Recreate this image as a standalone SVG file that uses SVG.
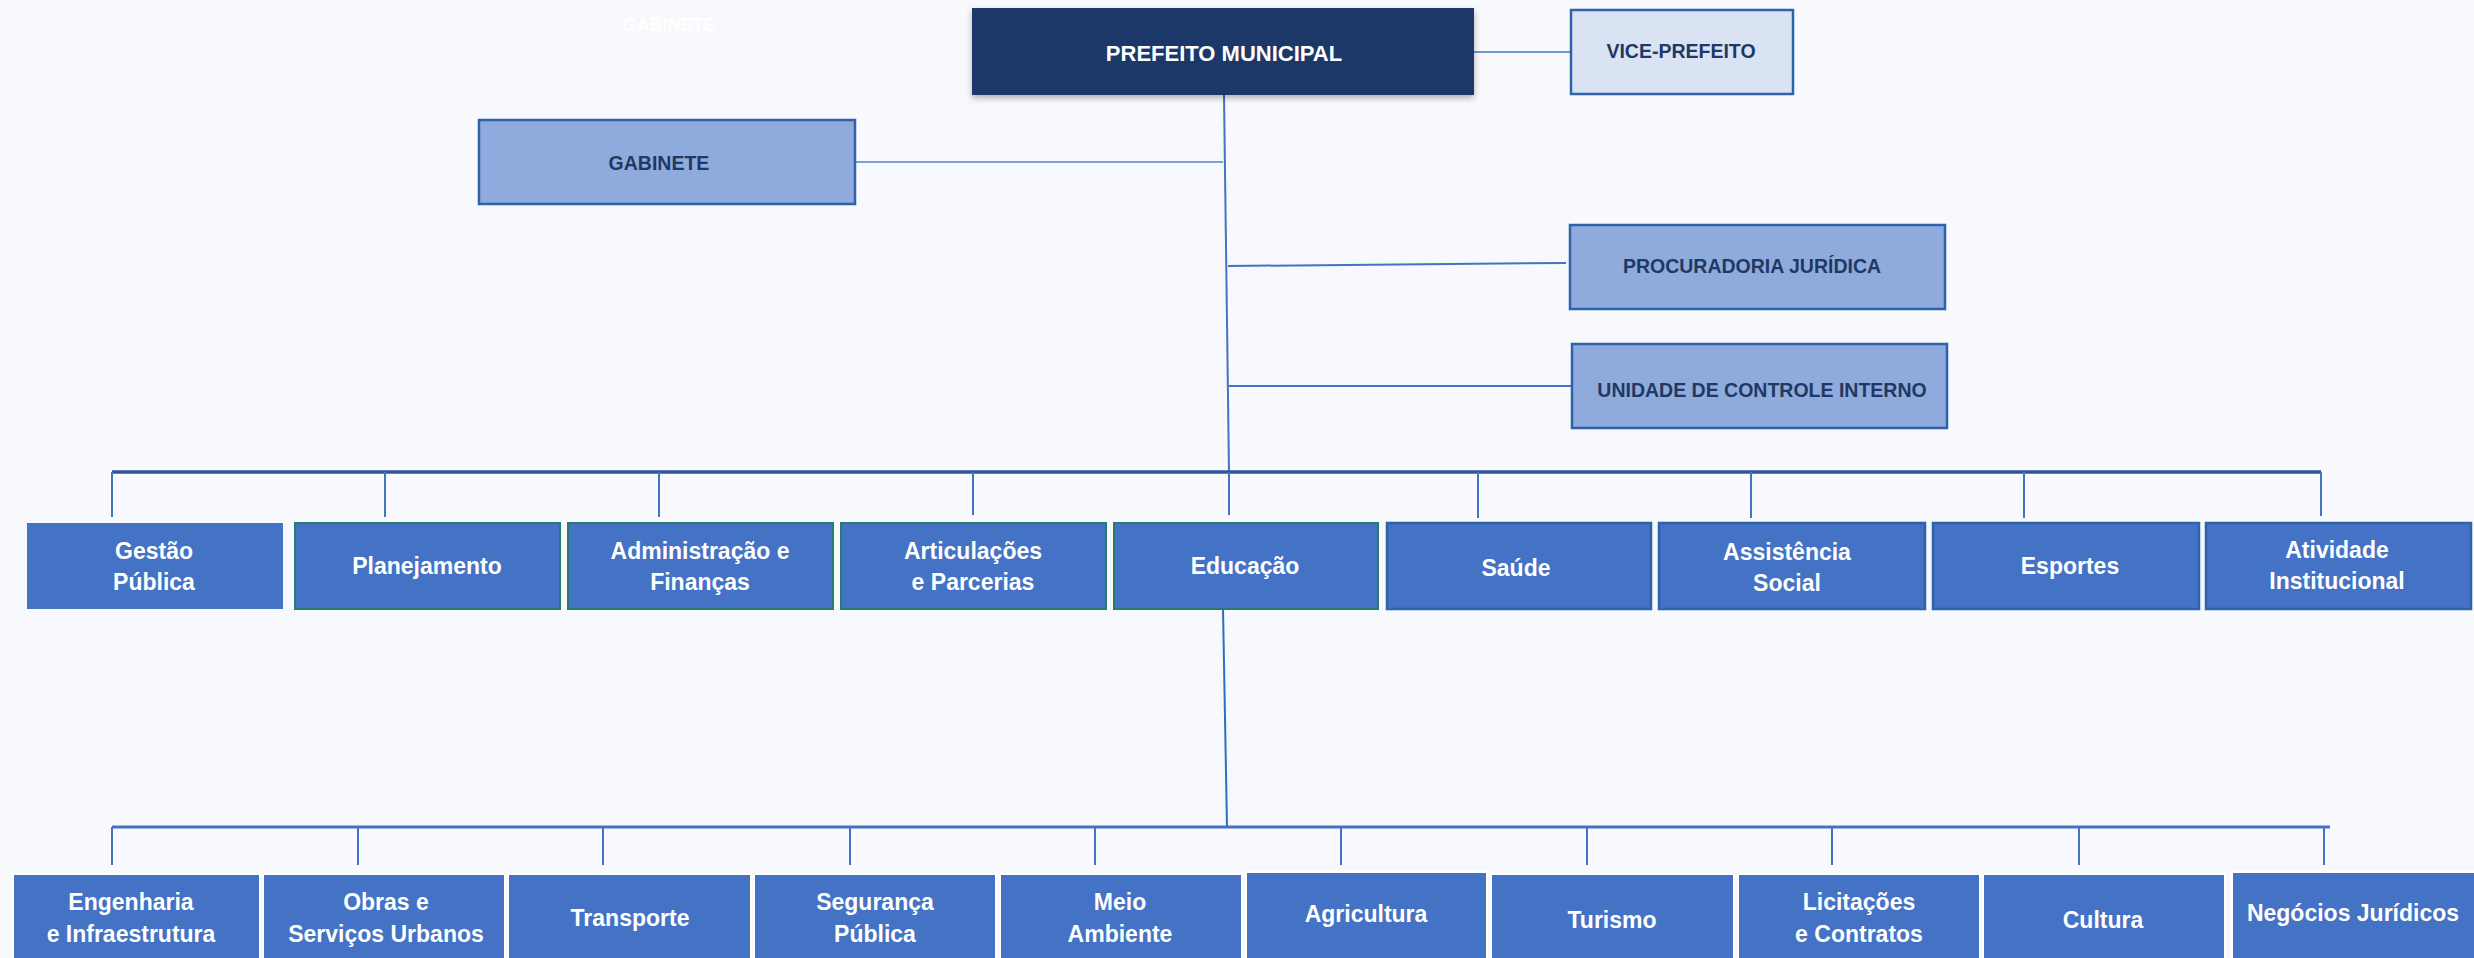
<svg xmlns="http://www.w3.org/2000/svg" width="2474" height="958" viewBox="0 0 2474 958">
<defs>
<filter id="sh" x="-5%" y="-10%" width="110%" height="130%">
<feDropShadow dx="0" dy="3" stdDeviation="3" flood-color="#000" flood-opacity="0.3"/>
</filter>
<style>
text{font-family:"Liberation Sans",Arial,sans-serif;font-weight:bold;text-anchor:middle}
.top{fill:#8FAADC;stroke:#2E62AA;stroke-width:2.5}
.tt{fill:#1F3864;font-size:19.5px}
.b2{fill:#4472C4}
.teal{stroke:#2A7A70;stroke-width:2}
.blu{stroke:#2E62AA;stroke-width:2.5}
.b3{fill:#4472C4;stroke:#FFFFFF;stroke-width:2}
.wt{fill:#FFFFFF;font-size:23px}
.ln{stroke:#4472C4;stroke-width:2;fill:none}
.bar{stroke:#2F5597;stroke-width:3.5;fill:none}
</style>
</defs>
<rect width="2474" height="958" fill="#F7F9FC"/>
<text x="669" y="31" style="fill:#FFFFFF;font-size:18px">GABINETE</text>

<g id="connectors">
<line class="ln" x1="1224" y1="95" x2="1229" y2="472"/>
<line class="ln" x1="1474" y1="52" x2="1571" y2="52" style="stroke:#6F93D6"/>
<line class="ln" x1="855" y1="162" x2="1223" y2="162" style="stroke:#7A9FDB"/>
<line class="ln" x1="1228" y1="266" x2="1566" y2="263"/>
<line class="ln" x1="1229" y1="386" x2="1572" y2="386"/>
<line class="bar" x1="112" y1="472" x2="2321" y2="472"/>
<path class="ln" d="M112 472V517M385 472V517M659 472V517M973 472V515M1229 472V515M1478 472V518M1751 472V518M2024 472V518M2321 472V516"/>
<line class="ln" x1="1223" y1="609" x2="1227" y2="827" style="stroke:#2F6FC0"/>
<line class="ln" x1="112" y1="827" x2="2330" y2="827" style="stroke-width:3"/>
<path class="ln" d="M112 827V865M358 827V865M603 827V865M850 827V865M1095 827V865M1341 827V865M1587 827V865M1832 827V865M2079 827V865M2324 827V865"/>
</g>

<g id="prefeito">
<rect x="972" y="8" width="502" height="87" fill="#1D3868" filter="url(#sh)"/>
<text x="1224" y="61" style="fill:#FFFFFF;font-size:22px">PREFEITO MUNICIPAL</text>
</g>
<g id="vice">
<rect x="1571" y="10" width="222" height="84" fill="#DAE3F3" stroke="#2E62AA" stroke-width="2.5"/>
<text x="1681" y="58" class="tt">VICE-PREFEITO</text>
</g>
<g id="gabinete">
<rect class="top" x="479" y="120" width="376" height="84"/>
<text x="659" y="170" class="tt">GABINETE</text>
</g>
<g id="procuradoria">
<rect class="top" x="1570" y="225" width="375" height="84"/>
<text x="1752" y="273" class="tt">PROCURADORIA JURÍDICA</text>
</g>
<g id="controle">
<rect class="top" x="1572" y="344" width="375" height="84"/>
<text x="1762" y="397" class="tt">UNIDADE DE CONTROLE INTERNO</text>
</g>

<g id="gestao"><rect class="b2" x="27" y="523" width="256" height="86"/><text class="wt" x="154" y="559">Gestão</text><text class="wt" x="154" y="590">Pública</text></g>
<g id="planejamento"><rect class="b2 teal" x="295" y="523" width="265" height="86"/><text class="wt" x="427" y="574">Planejamento</text></g>
<g id="administracao"><rect class="b2 teal" x="568" y="523" width="265" height="86"/><text class="wt" x="700" y="559">Administração e</text><text class="wt" x="700" y="590">Finanças</text></g>
<g id="articulacoes"><rect class="b2 teal" x="841" y="523" width="265" height="86"/><text class="wt" x="973" y="559">Articulações</text><text class="wt" x="973" y="590">e Parcerias</text></g>
<g id="educacao"><rect class="b2 teal" x="1114" y="523" width="264" height="86"/><text class="wt" x="1245" y="574">Educação</text></g>
<g id="saude"><rect class="b2 blu" x="1387" y="523" width="264" height="86"/><text class="wt" x="1516" y="576">Saúde</text></g>
<g id="assistencia"><rect class="b2 blu" x="1659" y="523" width="266" height="86"/><text class="wt" x="1787" y="560">Assistência</text><text class="wt" x="1787" y="591">Social</text></g>
<g id="esportes"><rect class="b2 blu" x="1933" y="523" width="266" height="86"/><text class="wt" x="2070" y="574">Esportes</text></g>
<g id="atividade"><rect class="b2 blu" x="2206" y="523" width="265" height="86"/><text class="wt" x="2337" y="558">Atividade</text><text class="wt" x="2337" y="589">Institucional</text></g>

<g id="engenharia"><rect class="b3" x="13" y="874" width="247" height="90"/><text class="wt" x="131" y="910">Engenharia</text><text class="wt" x="131" y="942">e Infraestrutura</text></g>
<g id="obras"><rect class="b3" x="263" y="874" width="242" height="90"/><text class="wt" x="386" y="910">Obras e</text><text class="wt" x="386" y="942">Serviços Urbanos</text></g>
<g id="transporte"><rect class="b3" x="508" y="874" width="243" height="90"/><text class="wt" x="630" y="926">Transporte</text></g>
<g id="seguranca"><rect class="b3" x="754" y="874" width="242" height="90"/><text class="wt" x="875" y="910">Segurança</text><text class="wt" x="875" y="942">Pública</text></g>
<g id="meio"><rect class="b3" x="1000" y="874" width="242" height="90"/><text class="wt" x="1120" y="910">Meio</text><text class="wt" x="1120" y="942">Ambiente</text></g>
<g id="agricultura"><rect class="b3" x="1246" y="872" width="241" height="92"/><text class="wt" x="1366" y="922">Agricultura</text></g>
<g id="turismo"><rect class="b3" x="1491" y="874" width="243" height="90"/><text class="wt" x="1612" y="928">Turismo</text></g>
<g id="licitacoes"><rect class="b3" x="1738" y="874" width="242" height="90"/><text class="wt" x="1859" y="910">Licitações</text><text class="wt" x="1859" y="942">e Contratos</text></g>
<g id="cultura"><rect class="b3" x="1983" y="874" width="242" height="90"/><text class="wt" x="2103" y="928">Cultura</text></g>
<g id="negocios"><rect class="b3" x="2232" y="872" width="244" height="92"/><text class="wt" x="2353" y="921">Negócios Jurídicos</text></g>
</svg>
